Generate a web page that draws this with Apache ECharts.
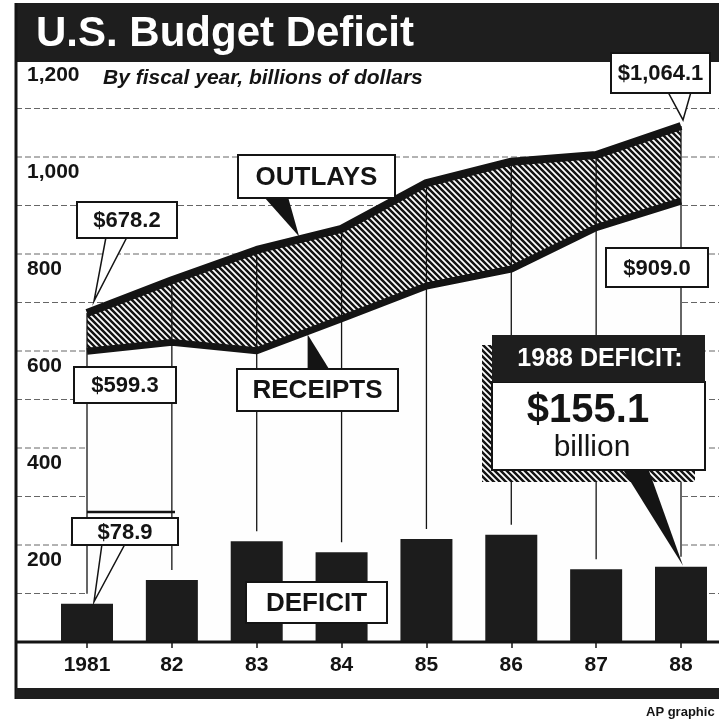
<!DOCTYPE html>
<html>
<head>
<meta charset="utf-8">
<script src="https://cdn.jsdelivr.net/npm/echarts@6/dist/echarts.min.js"></script>
<style>html,body{margin:0;padding:0;background:#fff;}#c{width:719px;height:720px;}</style>
</head>
<body>
<div id="c"></div>
<script>
const fullYears = [1981, 1982, 1983, 1984, 1985, 1986, 1987, 1988];
const yearLabels = ['1981', '82', '83', '84', '85', '86', '87', '88'];
const outlays = [678.2, 745.7, 808.3, 851.8, 946.3, 990.4, 1004.0, 1064.1];
const receipts = [599.3, 617.8, 600.6, 666.5, 734.1, 769.1, 854.4, 909.0];
const deficits = [78.9, 127.9, 207.8, 185.3, 212.3, 221.2, 149.8, 155.1];
const yTicks = [0, 200, 400, 600, 800, 1000, 1200];
const gridValues = [100, 200, 300, 400, 500, 600, 700, 800, 900, 1000, 1100];

const FF = '"Liberation Sans", Arial, Helvetica, sans-serif';
const INK = '#141414';

function hatch() {
  const s = 6, c = document.createElement('canvas');
  c.width = s; c.height = s;
  const g = c.getContext('2d');
  g.fillStyle = '#fff'; g.fillRect(0, 0, s, s);
  g.strokeStyle = INK; g.lineWidth = 2.5; g.beginPath();
  for (let k = -1; k <= 1; k++) { g.moveTo(-s, -s + k * s); g.lineTo(2 * s, 2 * s + k * s); }
  g.stroke();
  return c;
}
const hatchCanvas = hatch();
const fmt = v => '$' + v.toLocaleString('en-US', {minimumFractionDigits: 1, maximumFractionDigits: 1});

const chart = echarts.init(document.getElementById('c'));
chart.setOption({
  animation: false,
  grid: [
    {left: 87, right: 38, top: 60, bottom: 78},
    {left: 16, right: 0, top: 60, bottom: 78}
  ],
  xAxis: [
    {gridIndex: 0, type: 'category', data: yearLabels, boundaryGap: false,
      axisLine: {show: false},
      axisTick: {show: true, interval: 0, length: 6, lineStyle: {color: INK, width: 1.5}},
      axisLabel: {interval: 0, margin: 13, color: INK, fontFamily: FF, fontWeight: 'bold', fontSize: 21},
      splitLine: {show: false}},
    {gridIndex: 1, type: 'value', min: 0, max: 1, show: false}
  ],
  yAxis: [
    {gridIndex: 0, type: 'value', min: yTicks[0], max: yTicks[yTicks.length - 1], interval: 200,
      axisLine: {show: false}, axisTick: {show: false}, splitLine: {show: false},
      axisLabel: {align: 'left', margin: 60, verticalAlign: 'top', lineHeight: 30,
        color: INK, fontFamily: FF, fontWeight: 'bold', fontSize: 21,
        formatter: v => v === 0 ? '' : v.toLocaleString('en-US')}},
    {gridIndex: 1, type: 'value', min: 0, max: 1200, show: false}
  ],
  series: [
    {name: 'gridlines', type: 'custom', xAxisIndex: 1, yAxisIndex: 1, z: 1,
      data: gridValues.map(v => [0, v]), encode: {x: 0, y: 1},
      renderItem: (params, api) => {
        const a = api.coord([0, api.value(1)]);
        const b = api.coord([1, api.value(1)]);
        return {type: 'line', shape: {x1: a[0], y1: a[1], x2: b[0], y2: b[1]},
          style: {stroke: '#666', lineWidth: 1, lineDash: [6, 3]}};
      }},
    {name: 'bandTop', type: 'line', data: outlays, symbol: 'none', z: 5,
      lineStyle: {width: 0}, areaStyle: {color: {image: hatchCanvas, repeat: 'repeat'}, opacity: 1}},
    {name: 'bandBottom', type: 'line', data: receipts, symbol: 'none', z: 6,
      lineStyle: {width: 0}, areaStyle: {color: '#fefefe', opacity: 1}},
    {name: 'dividers', type: 'custom', z: 7,
      data: yearLabels.map((y, i) => [i, outlays[i], deficits[i]]),
      encode: {x: 0, y: [1, 2]},
      renderItem: (params, api) => {
        const i = api.value(0);
        const t = api.coord([i, api.value(1)]);
        const b = api.coord([i, api.value(2)]);
        return {type: 'line', shape: {x1: t[0], y1: t[1], x2: b[0], y2: b[1] - 10},
          style: {stroke: INK, lineWidth: 1.3}};
      }},
    {name: 'Deficit', type: 'bar', data: deficits, barWidth: 52, clip: false, z: 7,
      itemStyle: {color: '#1c1c1c'}},
    {name: 'Outlays', type: 'line', data: outlays, symbol: 'none', z: 8,
      lineStyle: {color: INK, width: 8}},
    {name: 'Receipts', type: 'line', data: receipts, symbol: 'none', z: 8,
      lineStyle: {color: INK, width: 7}}
  ]
});

const P = (i, v) => chart.convertToPixel({xAxisIndex: 0, yAxisIndex: 0}, [i, v]);
const lerp = (a, b, t) => [a[0] + (b[0] - a[0]) * t, a[1] + (b[1] - a[1]) * t];

function box(x, y, w, h, text, font, z) {
  return [
    {type: 'rect', z: z, shape: {x: x, y: y, width: w, height: h},
      style: {fill: '#fff', stroke: INK, lineWidth: 2}},
    {type: 'text', z: z + 1, style: {text: text, x: x + w / 2, y: y + h / 2 + 1,
      align: 'center', verticalAlign: 'middle', font: font, fill: INK}}
  ];
}
const F22 = 'bold 22px ' + FF;
const F26 = 'bold 26px ' + FF;

const last = fullYears.length - 1;
const pOut0 = P(0, outlays[0]);
const pOutL = P(last, outlays[last]);
const pOutMid = lerp(P(2, outlays[2]), P(3, outlays[3]), 0.5);
const pRecMid = lerp(P(2, receipts[2]), P(3, receipts[3]), 0.6);
const pDef0 = P(0, deficits[0]);
const pDefL = P(last, deficits[last]);
const yZero = P(0, 0)[1];

const g = [];
g.push({type: 'line', z: 90, shape: {x1: 16, y1: yZero, x2: 719, y2: yZero}, style: {stroke: INK, lineWidth: 3}});
g.push({type: 'rect', z: 100, shape: {x: 16, y: 3, width: 703, height: 59}, style: {fill: '#1e1e1e'}});
g.push({type: 'text', z: 101, style: {text: 'U.S. Budget Deficit', x: 36, y: 34, verticalAlign: 'middle',
  font: 'bold 42px ' + FF, fill: '#fff'}});
g.push({type: 'line', z: 100, shape: {x1: 16, y1: 3, x2: 16, y2: 699}, style: {stroke: INK, lineWidth: 3}});
g.push({type: 'rect', z: 100, shape: {x: 16, y: 688, width: 703, height: 11}, style: {fill: '#1e1e1e'}});
g.push({type: 'text', z: 100, style: {text: 'AP graphic', x: 646, y: 712, verticalAlign: 'middle',
  font: 'bold 13px ' + FF, fill: INK}});
g.push({type: 'text', z: 100, style: {text: 'By fiscal year, billions of dollars', x: 103, y: 78,
  verticalAlign: 'middle', font: 'italic bold 21px ' + FF, fill: INK}});

g.push({type: 'polygon', z: 108, shape: {points: [[668, 92], [691, 92], [pOutL[0] + 2, pOutL[1] - 6]]},
  style: {fill: '#fff', stroke: INK, lineWidth: 1.5}});
g.push(...box(611, 53, 99, 40, fmt(outlays[last]), F22, 110));
g.push({type: 'polygon', z: 108, shape: {points: [[106, 237], [127, 237], [pOut0[0] + 7, pOut0[1] - 12]]},
  style: {fill: '#fff', stroke: INK, lineWidth: 1.5}});
g.push(...box(77, 202, 100, 36, fmt(outlays[0]), F22, 110));
g.push({type: 'polygon', z: 108, shape: {points: [[264, 197], [288, 197], [pOutMid[0], pOutMid[1] - 3]]},
  style: {fill: INK}});
g.push(...box(238, 155, 157, 43, 'OUTLAYS', F26, 110));
g.push({type: 'polygon', z: 108, shape: {points: [[pRecMid[0], pRecMid[1] + 3], [pRecMid[0], 370], [pRecMid[0] + 22, 370]]},
  style: {fill: INK}});
g.push(...box(237, 369, 161, 42, 'RECEIPTS', F26, 110));
g.push(...box(74, 367, 102, 36, fmt(receipts[0]), F22, 110));
g.push(...box(606, 248, 102, 39, fmt(receipts[last]), F22, 110));
g.push({type: 'line', z: 109, shape: {x1: 87, y1: 512, x2: 175, y2: 512}, style: {stroke: INK, lineWidth: 2.5}});
g.push({type: 'polygon', z: 108, shape: {points: [[102, 544], [125, 544], [pDef0[0] + 7, pDef0[1] - 2]]},
  style: {fill: '#fff', stroke: INK, lineWidth: 1.5}});
g.push(...box(72, 518, 106, 27, fmt(deficits[0]), F22, 110));
g.push(...box(246, 582, 141, 41, 'DEFICIT', F26, 110));
g.push({type: 'rect', z: 105, shape: {x: 482, y: 345, width: 213, height: 137},
  style: {fill: {image: hatchCanvas, repeat: 'repeat'}}});
g.push({type: 'polygon', z: 108, shape: {points: [[622, 468], [648, 468], [pDefL[0] + 2, pDefL[1] - 1]]},
  style: {fill: INK}});
g.push({type: 'rect', z: 110, shape: {x: 492, y: 382, width: 213, height: 88},
  style: {fill: '#fff', stroke: INK, lineWidth: 2}});
g.push({type: 'rect', z: 111, shape: {x: 492, y: 335, width: 213, height: 47}, style: {fill: '#1e1e1e'}});
g.push({type: 'text', z: 112, style: {text: fullYears[last] + ' DEFICIT:', x: 600, y: 359,
  align: 'center', verticalAlign: 'middle', font: 'bold 25px ' + FF, fill: '#fff'}});
g.push({type: 'text', z: 112, style: {text: fmt(deficits[last]), x: 588, y: 411,
  align: 'center', verticalAlign: 'middle', font: 'bold 40px ' + FF, fill: INK}});
g.push({type: 'text', z: 112, style: {text: 'billion', x: 592, y: 448,
  align: 'center', verticalAlign: 'middle', font: '30px ' + FF, fill: INK}});

chart.setOption({graphic: {elements: g}});
</script>
</body>
</html>
